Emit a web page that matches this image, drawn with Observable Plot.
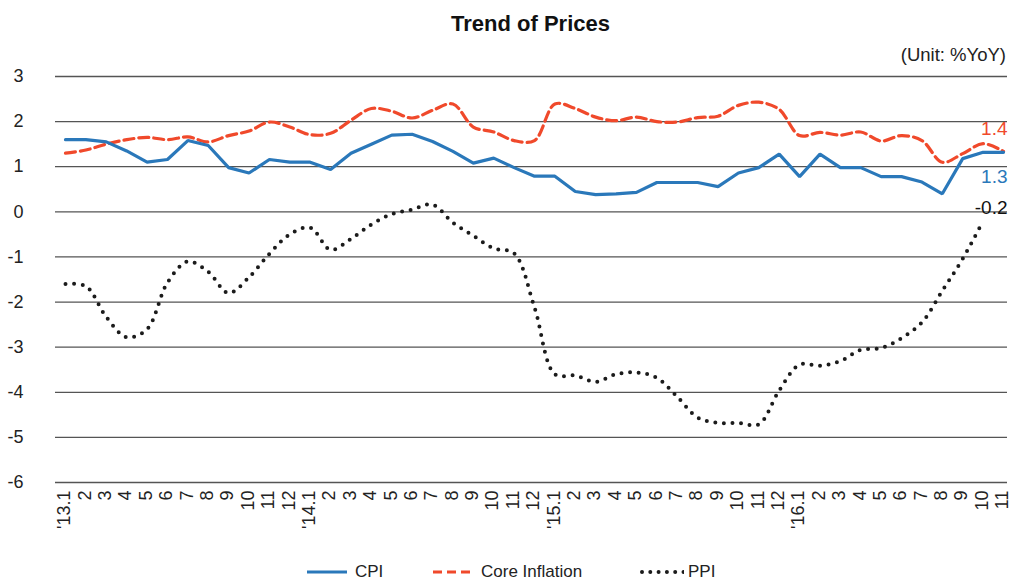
<!DOCTYPE html>
<html>
<head>
<meta charset="utf-8">
<script src="https://cdn.jsdelivr.net/npm/d3@7"></script>
<script src="https://cdn.jsdelivr.net/npm/@observablehq/plot@0.6"></script>
<style>
  html, body { margin: 0; padding: 0; background: #fff; }
  body { width: 1013px; height: 580px; position: relative; overflow: hidden;
         font-family: "Liberation Sans", Arial, sans-serif; color: #222; }
  #title { position: absolute; left: 55px; width: 951px; top: 2px; height: 44px; line-height: 44px;
           text-align: center; font-weight: bold; font-size: 22px; color: #111; }
  #unit { position: absolute; right: 7px; top: 44px; height: 22px; line-height: 22px; font-size: 18.5px; color: #222; }
  #chart { position: absolute; left: 0; top: 66px; }
  #legend { position: absolute; top: 560px; left: 0; width: 1013px; height: 24px; font-size: 17px; color: #222; }
  .item { position: absolute; top: 0; height: 24px; line-height: 24px; white-space: nowrap; }
  .item svg { position: absolute; left: 0; top: 0; }
  .item span { position: absolute; top: 0; }
</style>
</head>
<body>
<div id="title">Trend of Prices</div>
<div id="unit">(Unit: %YoY)</div>
<div id="chart"></div>
<div id="legend"></div>
<script>
// ---- data ----
const monthLabels = ["'13.1","2","3","4","5","6","7","8","9","10","11","12",
  "'14.1","2","3","4","5","6","7","8","9","10","11","12",
  "'15.1","2","3","4","5","6","7","8","9","10","11","12",
  "'16.1","2","3","4","5","6","7","8","9","10","11"];
const cpi = [1.6,1.6,1.55,1.35,1.1,1.16,1.58,1.47,0.98,0.86,1.16,1.1,
  1.1,0.94,1.3,1.5,1.7,1.72,1.56,1.34,1.08,1.19,0.98,0.79,
  0.79,0.45,0.38,0.4,0.43,0.65,0.65,0.65,0.56,0.86,0.98,1.28,
  0.78,1.28,0.98,0.98,0.78,0.78,0.66,0.4,1.18,1.32,1.32];
const core = [1.3,1.37,1.5,1.6,1.65,1.6,1.66,1.55,1.69,1.79,1.99,1.88,
  1.71,1.74,2.03,2.29,2.23,2.08,2.25,2.39,1.88,1.77,1.58,1.58,
  2.39,2.29,2.1,2.02,2.1,2.0,1.99,2.09,2.12,2.36,2.43,2.27,
  1.69,1.76,1.7,1.77,1.57,1.69,1.58,1.1,1.29,1.51,1.34];
const ppi = [-1.6,-1.65,-2.33,-2.78,-2.6,-1.57,-1.1,-1.33,-1.8,-1.45,-0.93,-0.5,
  -0.35,-0.84,-0.6,-0.28,-0.05,0.05,0.16,-0.24,-0.53,-0.81,-0.92,-2.12,
  -3.6,-3.63,-3.77,-3.6,-3.56,-3.68,-4.1,-4.56,-4.68,-4.68,-4.71,-3.96,
  -3.39,-3.41,-3.31,-3.06,-3.02,-2.8,-2.45,-1.75,-1.04,-0.2];
const yTicks = [3,2,1,0,-1,-2,-3,-4,-5,-6];
const seriesNames = ["CPI","Core Inflation","PPI"];
const endLabels = ["1.4","1.3","-0.2"];

const colors = {cpi: "#2a78ba", core: "#f0492b", ppi: "#1b1b1b"};

const idx = d3.range(monthLabels.length);
const cpiRows = cpi.map((v, i) => ({i, v}));
const coreRows = core.map((v, i) => ({i, v}));
const ppiRows = ppi.map((v, i) => ({i, v}));
const last = monthLabels.length - 1;

const chart = Plot.plot({
  width: 1013,
  height: 490,
  marginTop: 10,
  marginBottom: 74,
  marginLeft: 65,
  marginRight: 10,
  style: {fontFamily: "'Liberation Sans', Arial, sans-serif", fontSize: "18px", color: "#222", background: "#fff"},
  x: {type: "point", domain: idx, padding: 0, round: false, label: null},
  y: {domain: [-6, 3], label: null},
  marks: [
    Plot.ruleY(yTicks, {stroke: "#555", strokeWidth: 1.3, insetLeft: -10, insetRight: -4}),
    Plot.axisY(yTicks, {tickSize: 0, tickPadding: 42, fontSize: 18, label: null,
      tickFormat: d => String(d)}),
    Plot.axisX(idx, {tickSize: 0, tickPadding: 8, tickRotate: -90, fontSize: 18, label: null,
      dx: -1, tickFormat: i => monthLabels[i]}),
    Plot.line(ppiRows, {x: "i", y: "v", stroke: colors.ppi, strokeWidth: 4,
      strokeDasharray: "0,8.6", strokeLinecap: "round", curve: "catmull-rom"}),
    Plot.line(coreRows, {x: "i", y: "v", stroke: colors.core, strokeWidth: 3.2,
      strokeDasharray: "10,5", curve: "catmull-rom"}),
    Plot.line(cpiRows, {x: "i", y: "v", stroke: colors.cpi, strokeWidth: 3.2, strokeLinejoin: "miter"}),
    Plot.text([{i: last, v: core[last], t: endLabels[0]}], {x: "i", y: "v", text: "t",
      textAnchor: "end", dx: 4, dy: -22, fill: colors.core, fontSize: 19}),
    Plot.text([{i: last, v: cpi[last], t: endLabels[1]}], {x: "i", y: "v", text: "t",
      textAnchor: "end", dx: 4, dy: 25, fill: colors.cpi, fontSize: 19}),
    Plot.text([{i: last, v: ppi[ppi.length - 1], t: endLabels[2]}], {x: "i", y: "v", text: "t",
      textAnchor: "end", dx: 4, dy: -13, fill: "#111", fontSize: 19})
  ]
});
document.getElementById("chart").appendChild(chart);

// ---- legend ----
const legend = document.getElementById("legend");
const legendItems = [
  {name: seriesNames[0], left: 307, stroke: colors.cpi, dash: null, cap: "butt", w: 3.2},
  {name: seriesNames[1], left: 433, stroke: colors.core, dash: "9,5", cap: "butt", w: 3.2},
  {name: seriesNames[2], left: 640, stroke: colors.ppi, dash: "0,8.3", cap: "round", w: 4}
];
for (const it of legendItems) {
  const div = document.createElement("div");
  div.className = "item";
  div.style.left = it.left + "px";
  div.style.width = "200px";
  div.innerHTML = `<svg width="44" height="24"><line x1="${it.cap === "round" ? 2 : 0}" x2="${it.cap === "round" ? 44 : 40}" y1="12" y2="12" stroke="${it.stroke}" stroke-width="${it.w}" ${it.dash ? `stroke-dasharray="${it.dash}"` : ""} stroke-linecap="${it.cap}"/></svg><span style="left:48px">${it.name}</span>`;
  legend.appendChild(div);
}
</script>
</body>
</html>
